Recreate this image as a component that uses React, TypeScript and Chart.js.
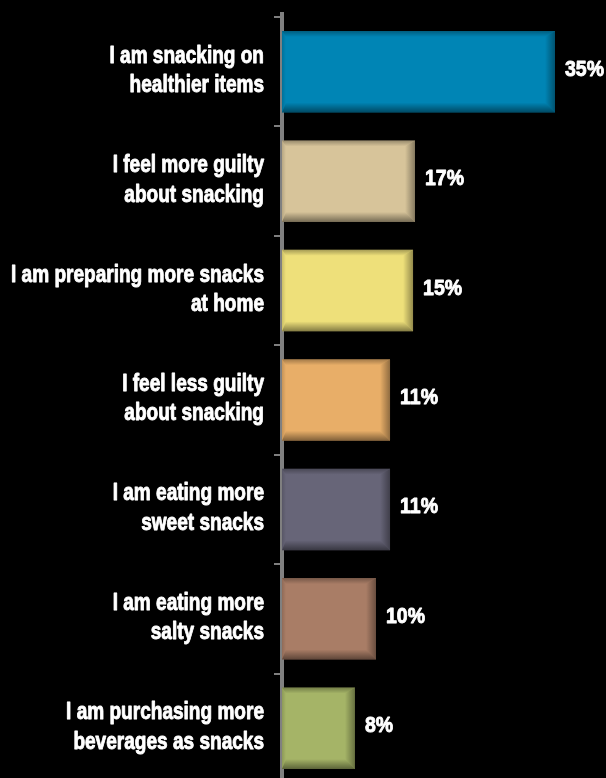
import React, { useEffect, useRef } from "react";
import { Chart, registerables } from "chart.js";

Chart.register(...registerables);

const categories: string[][] = [
  ["I am snacking on", "healthier items"],
  ["I feel more guilty", "about snacking"],
  ["I am preparing more snacks", "at home"],
  ["I feel less guilty", "about snacking"],
  ["I am eating more", "sweet snacks"],
  ["I am eating more", "salty snacks"],
  ["I am purchasing more", "beverages as snacks"],
];

// bar lengths as drawn in the picture (percent-scale units)
const barLengths: number[] = [35, 17.05, 16.8, 13.85, 13.85, 12.05, 9.35];

// value labels printed next to the bars
const valueLabels: string[] = ["35%", "17%", "15%", "11%", "11%", "10%", "8%"];

const barColors: string[] = [
  "#0085B5",
  "#D7C49A",
  "#EEE07A",
  "#E8AE68",
  "#676578",
  "#A97D66",
  "#A5B467",
];

const axisMax = 40;

const FONT = "'Liberation Sans', Arial, sans-serif";

function edge(
  ctx: CanvasRenderingContext2D,
  pts: number[][],
  g0: number[],
  g1: number[],
  alpha: number
) {
  const grad = ctx.createLinearGradient(g0[0], g0[1], g1[0], g1[1]);
  grad.addColorStop(0, `rgba(0,0,0,${alpha})`);
  grad.addColorStop(1, "rgba(0,0,0,0)");
  ctx.beginPath();
  ctx.moveTo(pts[0][0], pts[0][1]);
  for (let i = 1; i < pts.length; i++) ctx.lineTo(pts[i][0], pts[i][1]);
  ctx.closePath();
  ctx.fillStyle = grad;
  ctx.fill();
}

// draws condensed, heavy text (the original uses a condensed bold face)
function condensedText(
  ctx: CanvasRenderingContext2D,
  text: string,
  x: number,
  y: number,
  sx: number,
  align: "left" | "right"
) {
  ctx.save();
  ctx.translate(x, y);
  ctx.scale(sx, 1);
  ctx.textAlign = align;
  ctx.lineJoin = "round";
  ctx.strokeStyle = ctx.fillStyle as string;
  ctx.lineWidth = 0.9;
  ctx.fillText(text, 0, 0);
  ctx.strokeText(text, 0, 0);
  ctx.restore();
}

const bevelPlugin = {
  id: "bevel",
  afterDatasetsDraw(chart: any) {
    const ctx: CanvasRenderingContext2D = chart.ctx;
    const meta = chart.getDatasetMeta(0);
    ctx.save();
    ctx.font = `bold 22px ${FONT}`;
    const vsx = 39 / ctx.measureText("35%").width;
    meta.data.forEach((el: any, i: number) => {
      const { x, y, base, height } = el.getProps(["x", "y", "base", "height"], true);
      const l = Math.min(x, base);
      const r = Math.max(x, base);
      const t = y - height / 2;
      const b = y + height / 2;
      const dt = 6, db = 10, dr = 10, dl = 4;
      edge(ctx, [[l, t], [r, t], [r - dr, t + dt], [l + dl, t + dt]], [0, t], [0, t + dt], 0.3);
      edge(ctx, [[l, b], [r, b], [r - dr, b - db], [l + dl, b - db]], [0, b], [0, b - db], 0.45);
      edge(ctx, [[r, t], [r, b], [r - dr, b - db], [r - dr, t + dt]], [r, 0], [r - dr, 0], 0.38);
      edge(ctx, [[l, t], [l, b], [l + dl, b - db], [l + dl, t + dt]], [l, 0], [l + dl, 0], 0.15);

      ctx.fillStyle = "#ffffff";
      ctx.font = `bold 22px ${FONT}`;
      ctx.textBaseline = "alphabetic";
      condensedText(ctx, valueLabels[i], r + 10, y + 4, vsx, "left");
    });
    ctx.restore();
  },
};

const categoryLabelPlugin = {
  id: "categoryLabels",
  afterDraw(chart: any) {
    const ctx: CanvasRenderingContext2D = chart.ctx;
    const yScale = chart.scales.y;
    const left = chart.chartArea.left;
    ctx.save();
    // axis extension above the plot area
    ctx.strokeStyle = "#808080";
    ctx.lineWidth = 4;
    ctx.beginPath();
    ctx.moveTo(left, 12);
    ctx.lineTo(left, chart.chartArea.top + 1);
    ctx.stroke();

    ctx.font = `bold 24px ${FONT}`;
    ctx.fillStyle = "#ffffff";
    ctx.textBaseline = "alphabetic";
    const sx = 253 / ctx.measureText("I am preparing more snacks").width;
    categories.forEach((lines, i) => {
      const cy = yScale.getPixelForValue(i) - 3;
      const lh = 29.5;
      const n = lines.length;
      lines.forEach((line, j) => {
        const baseY = cy + (j - (n - 1) / 2) * lh + 8.7;
        condensedText(ctx, line, left - 18, baseY, sx, "right");
      });
    });
    ctx.restore();
  },
};

export default function App() {
  const ref = useRef<HTMLCanvasElement | null>(null);

  useEffect(() => {
    if (!ref.current) return;
    const chart = new Chart(ref.current, {
      type: "bar",
      data: {
        labels: categories.map((c) => c.join(" ")),
        datasets: [
          {
            data: barLengths,
            backgroundColor: barColors,
            borderWidth: 0,
            barPercentage: 0.745,
            categoryPercentage: 1,
          },
        ],
      },
      options: {
        indexAxis: "y",
        animation: false,
        responsive: false,
        maintainAspectRatio: false,
        layout: { padding: { top: 17, right: 12, bottom: 0, left: 0 } },
        plugins: {
          legend: { display: false },
          tooltip: { enabled: false },
          title: { display: false },
        },
        scales: {
          x: {
            type: "linear",
            min: 0,
            max: axisMax,
            display: false,
          },
          y: {
            type: "category",
            offset: true,
            grid: {
              display: true,
              offset: true,
              drawOnChartArea: false,
              drawTicks: true,
              tickLength: 8,
              color: "#7f7f7f",
              lineWidth: 2,
            },
            border: { display: true, color: "#808080", width: 4 },
            ticks: { display: false },
            afterFit: (scale: any) => {
              scale.width = 282;
              scale.paddingTop = 0;
              scale.paddingBottom = 0;
            },
          },
        },
      },
      plugins: [bevelPlugin, categoryLabelPlugin],
    } as any);
    return () => chart.destroy();
  }, []);

  return (
    <div
      style={{
        position: "fixed",
        top: 0,
        left: 0,
        width: 606,
        height: 778,
        overflow: "hidden",
        background: "#000000",
      }}
    >
      <canvas ref={ref} width={606} height={783} style={{ display: "block" }} />
    </div>
  );
}
